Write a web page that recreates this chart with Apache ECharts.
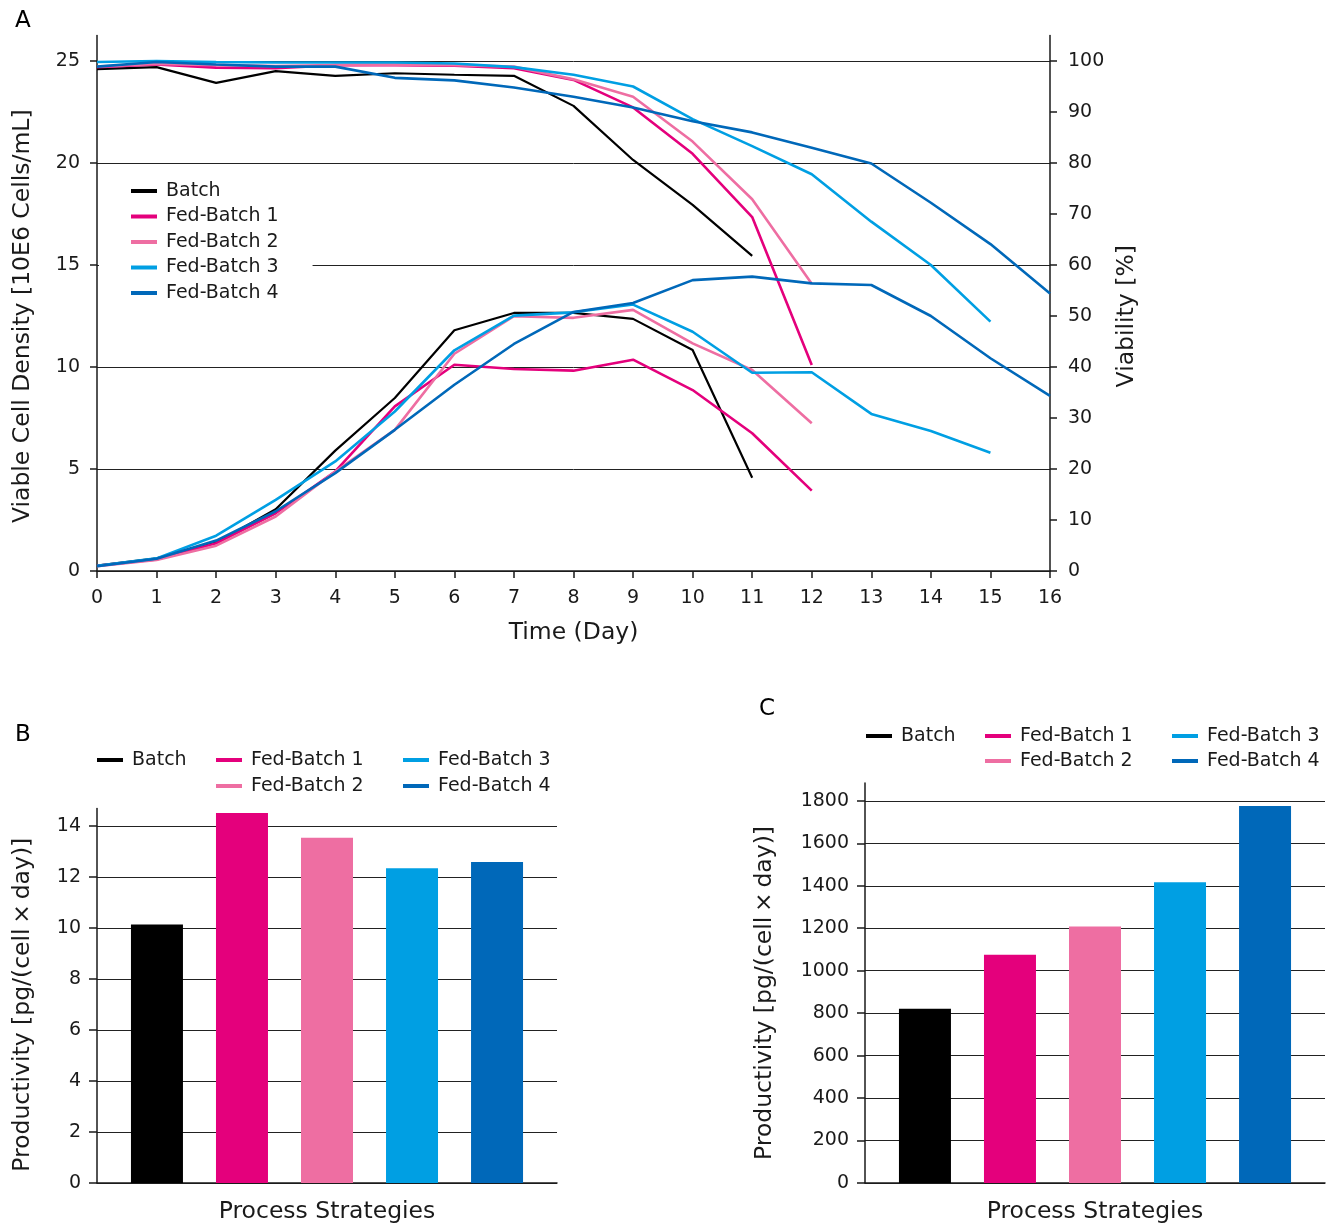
<!DOCTYPE html>
<html><head><meta charset="utf-8">
<script src="https://cdn.jsdelivr.net/npm/echarts@6.0.0/dist/echarts.min.js"></script>
<style>html,body{margin:0;padding:0;background:#fff}#c{width:1334px;height:1226px}</style>
</head><body><div id="c"></div>
<script>
// ---------- data ----------
const names = ['Batch', 'Fed-Batch 1', 'Fed-Batch 2', 'Fed-Batch 3', 'Fed-Batch 4'];
const colors = ['#000000', '#E4007C', '#EE6EA2', '#009FE3', '#0068B9'];
const days = [0, 1, 2, 3, 4, 5, 6, 7, 8, 9, 10, 11, 12, 13, 14, 15, 16];
// Viable cell density [10E6 cells/mL] per day
const vcdBatch = [0.26, 0.62, 1.39, 3.03, 5.9, 8.48, 11.8, 12.65, 12.65, 12.36, 10.83, 4.57];
const vcdFB1 = [0.26, 0.57, 1.36, 2.83, 4.88, 8.07, 10.11, 9.9, 9.82, 10.36, 8.87, 6.75, 3.94];
const vcdFB2 = [0.23, 0.54, 1.24, 2.67, 4.88, 6.92, 10.65, 12.49, 12.41, 12.8, 11.16, 9.85, 7.24];
const vcdFB3 = [0.26, 0.62, 1.73, 3.49, 5.37, 7.82, 10.82, 12.52, 12.68, 13.06, 11.73, 9.72, 9.74, 7.7, 6.86, 5.8];
const vcdFB4 = [0.23, 0.6, 1.49, 2.93, 4.8, 6.92, 9.13, 11.13, 12.7, 13.14, 14.26, 14.43, 14.1, 14.02, 12.5, 10.43, 8.58];
// Viability [%] per day
const viaBatch = [98.4, 98.8, 95.7, 98.0, 97.1, 97.6, 97.3, 97.1, 91.2, 80.6, 71.8, 61.8];
const viaFB1 = [98.8, 99.3, 98.7, 98.6, 99.2, 99.2, 99.1, 98.6, 96.3, 90.9, 81.8, 69.4, 40.4];
const viaFB2 = [98.9, 99.4, 99.2, 99.0, 99.2, 99.3, 99.2, 98.9, 96.4, 93.0, 84.2, 72.9, 56.3];
const viaFB3 = [99.8, 100, 99.8, 99.7, 99.7, 99.7, 99.5, 98.8, 97.3, 95.0, 88.6, 83.3, 77.8, 68.5, 60.0, 48.9];
const viaFB4 = [98.9, 99.8, 99.3, 98.9, 98.9, 96.7, 96.2, 94.8, 93.0, 90.9, 88.2, 86.0, 83.0, 79.9, 72.2, 64.1, 54.4];
// Productivity
const prodB = [10.13, 14.5, 13.53, 12.34, 12.58];       // pg/(cell x day)
const prodC = [821, 1075, 1208, 1417, 1776];            // panel C
// tick values
const ticksVcd = [0, 5, 10, 15, 20, 25];
const ticksVia = [0, 10, 20, 30, 40, 50, 60, 70, 80, 90, 100];
const ticksB = [0, 2, 4, 6, 8, 10, 12, 14];
const ticksC = [0, 200, 400, 600, 800, 1000, 1200, 1400, 1600, 1800];

// ---------- styling ----------
const FONT = 'DejaVu Sans';
const TXT = '#1a1a1a';
const vcdSets = [vcdBatch, vcdFB1, vcdFB2, vcdFB3, vcdFB4];
const viaSets = [viaBatch, viaFB1, viaFB2, viaFB3, viaFB4];
const pair = arr => arr.map((v, i) => [days[i], v]);
const plain = v => String(v);

const axisLine = { show: true, lineStyle: { color: TXT, width: 1.5 } };
const labelStyle = { color: TXT, fontSize: 19, fontFamily: FONT, formatter: plain };
const nameStyle = { color: TXT, fontSize: 23.5, fontFamily: FONT };
const gridLine = { show: true, lineStyle: { color: '#222', width: 1 } };

const series = [];
names.forEach((n, i) => {
  series.push({
    name: n, type: 'line', xAxisIndex: 0, yAxisIndex: 0, data: pair(vcdSets[i]),
    symbol: 'none', color: colors[i], lineStyle: { width: i === 0 ? 2.2 : 2.6, color: colors[i] }, z: 2 + i
  });
});
names.forEach((n, i) => {
  series.push({
    name: n, type: 'line', xAxisIndex: 0, yAxisIndex: 1, data: pair(viaSets[i]),
    symbol: 'none', color: colors[i], lineStyle: { width: i === 0 ? 2.2 : 2.6, color: colors[i] }, z: 2 + i
  });
});
names.forEach((n, i) => {
  series.push({
    name: n, type: 'bar', xAxisIndex: 1, yAxisIndex: 2, data: [prodB[i]],
    color: colors[i], barWidth: 52, barGap: '63.5%'
  });
  series.push({
    name: n, type: 'bar', xAxisIndex: 2, yAxisIndex: 3, data: [prodC[i]],
    color: colors[i], barWidth: 52, barGap: '63.5%'
  });
});

const legendBase = {
  icon: 'rect', itemWidth: 26, itemHeight: 4, selectedMode: false,
  textStyle: { color: TXT, fontSize: 19, fontFamily: FONT, lineHeight: 20, padding: [0, 0, 0, 4] }
};
function lg(extra) { return Object.assign({}, legendBase, extra); }
const titleStyle = { fontSize: 23, fontFamily: FONT, color: '#000', fontWeight: 'normal' };

const option = {
  animation: false,
  backgroundColor: '#fff',
  title: [
    { text: 'A', left: 10, top: 5, textStyle: titleStyle },
    { text: 'B', left: 10, top: 719, textStyle: titleStyle },
    { text: 'C', left: 754, top: 693, textStyle: titleStyle }
  ],
  legend: [
    lg({ data: names, orient: 'vertical', left: 99, top: 170, itemGap: 5.5,
         padding: [11, 34, 11, 32], backgroundColor: '#fff' }),
    lg({ data: ['Batch'], left: 97, top: 750, padding: 0 }),
    lg({ data: ['Fed-Batch 1', 'Fed-Batch 2'], orient: 'vertical', left: 216, top: 750, padding: 0, itemGap: 6 }),
    lg({ data: ['Fed-Batch 3', 'Fed-Batch 4'], orient: 'vertical', left: 403, top: 750, padding: 0, itemGap: 6 }),
    lg({ data: ['Batch'], left: 866, top: 726, padding: 0 }),
    lg({ data: ['Fed-Batch 1', 'Fed-Batch 2'], orient: 'vertical', left: 985, top: 726, padding: 0, itemGap: 5 }),
    lg({ data: ['Fed-Batch 3', 'Fed-Batch 4'], orient: 'vertical', left: 1172, top: 726, padding: 0, itemGap: 5 })
  ],
  grid: [
    { left: 97, right: 284, top: 35.5, bottom: 655 },
    { left: 97, right: 777, top: 808.5, bottom: 43 },
    { left: 865, right: 9, top: 783, bottom: 43 }
  ],
  xAxis: [
    { type: 'value', gridIndex: 0, min: 0, max: 16, interval: 1,
      axisLine: axisLine, axisTick: { show: true, length: 7, lineStyle: { color: TXT, width: 1.5 } },
      axisLabel: Object.assign({ margin: 18 }, labelStyle), splitLine: { show: false },
      name: 'Time (Day)', nameLocation: 'middle', nameGap: 50, nameTextStyle: nameStyle },
    { type: 'category', gridIndex: 1, data: [''], axisLine: axisLine, axisTick: { show: false },
      axisLabel: { show: false }, name: 'Process Strategies', nameLocation: 'middle', nameGap: 17,
      nameTextStyle: nameStyle },
    { type: 'category', gridIndex: 2, data: [''], axisLine: axisLine, axisTick: { show: false },
      axisLabel: { show: false }, name: 'Process Strategies', nameLocation: 'middle', nameGap: 17,
      nameTextStyle: nameStyle }
  ],
  yAxis: [
    { type: 'value', gridIndex: 0, position: 'left', min: 0, max: 26.25,
      axisLine: axisLine,
      axisTick: { show: true, length: 7, customValues: ticksVcd, lineStyle: { color: TXT, width: 1.5 } },
      axisLabel: Object.assign({ margin: 17, customValues: ticksVcd }, labelStyle),
      splitLine: gridLine,
      name: 'Viable Cell Density [10E6 Cells/mL]', nameLocation: 'middle', nameGap: 62,
      nameTextStyle: Object.assign({ padding: [0, 26, 0, 0] }, nameStyle) },
    { type: 'value', gridIndex: 0, position: 'right', min: 0, max: 105,
      axisLine: axisLine,
      axisTick: { show: true, length: 7, customValues: ticksVia, lineStyle: { color: TXT, width: 1.5 } },
      axisLabel: Object.assign({ margin: 18, customValues: ticksVia }, labelStyle),
      splitLine: { show: false },
      name: 'Viability [%]', nameLocation: 'middle', nameGap: 63,
      nameTextStyle: Object.assign({ padding: [0, 26, 0, 0] }, nameStyle) },
    { type: 'value', gridIndex: 1, min: 0, max: 14.68,
      axisLine: axisLine,
      axisTick: { show: true, length: 8, customValues: ticksB, lineStyle: { color: TXT, width: 1.5 } },
      axisLabel: Object.assign({ margin: 16, customValues: ticksB }, labelStyle),
      splitLine: gridLine,
      name: 'Productivity [pg/(cell\u2009\u00d7\u2009day)]', nameLocation: 'middle', nameGap: 62,
      nameTextStyle: Object.assign({ padding: [0, 18, 0, 0] }, nameStyle) },
    { type: 'value', gridIndex: 2, min: 0, max: 1884,
      axisLine: axisLine,
      axisTick: { show: true, length: 8, customValues: ticksC, lineStyle: { color: TXT, width: 1.5 } },
      axisLabel: Object.assign({ margin: 16, customValues: ticksC }, labelStyle),
      splitLine: gridLine,
      name: 'Productivity [pg/(cell\u2009\u00d7\u2009day)]', nameLocation: 'middle', nameGap: 88,
      nameTextStyle: Object.assign({ padding: [0, 20, 0, 0] }, nameStyle) }
  ],
  series: series
};

const chart = echarts.init(document.getElementById('c'), null, { renderer: 'canvas' });
chart.setOption(option);
</script>
</body></html>
